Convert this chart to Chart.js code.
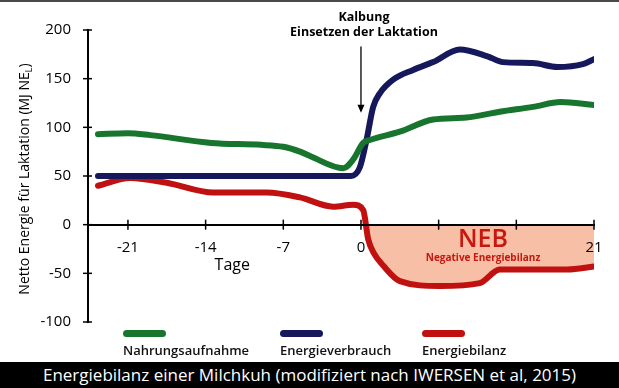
<!DOCTYPE html>
<html>
<head>
<meta charset="utf-8">
<script src="https://cdn.jsdelivr.net/npm/chart.js@4.4.1/dist/chart.umd.min.js"></script>
<style>
  html, body { margin: 0; padding: 0; background: #fff; }
  #wrap { position: relative; width: 619px; height: 388px; overflow: hidden; font-family: "Open Sans", sans-serif; }
  #topline { position: absolute; left: 0; top: 0; width: 619px; height: 2px; background: #4a4a4a; }
  #box { position: absolute; left: 0; top: 0; width: 619px; height: 362px; }
  .leg { position: absolute; top: 330px; font-size: 13px; font-weight: 600; color: #111; }
  .leg span { display: block; width: 43px; height: 7px; border-radius: 4px; margin-bottom: 4px; }
  #caption { position: absolute; left: 0; top: 362px; width: 619px; height: 26px; background: #000; color: #fff;
             font-size: 17px; line-height: 26px; text-align: center; }
</style>
</head>
<body>
<div id="wrap">
  <div id="box"><canvas id="myChart"></canvas></div>
  <div id="topline"></div>
  <div class="leg" style="left:123px"><span style="background:#17752d"></span>Nahrungsaufnahme</div>
  <div class="leg" style="left:280px"><span style="background:#15195c"></span>Energieverbrauch</div>
  <div class="leg" style="left:422px"><span style="background:#c01010"></span>Energiebilanz</div>
  <div id="caption">Energiebilanz einer Milchkuh (modifiziert nach IWERSEN et al, 2015)</div>
</div>
<script>
// days relative to calving, values in MJ NEL
const greenDays = [-23.7, -21, -19, -13.5, -9, -7, -5.5, -4.5, -1.6, -0.7, 0.2, 0.8, 3.5, 6.5, 9.5, 12.5, 15.5, 18, 21];
const greenVals = [93, 94, 92, 84, 82, 80, 75, 70, 58, 67, 84, 87, 95.5, 108, 110, 116, 121, 126, 123];

const blueDays = [-23.7, -2, -0.9, -0.1, 0.5, 1.1, 1.7, 2.9, 4.7, 6.5, 8.9, 11.4, 12.8, 15.5, 17.7, 20, 21];
const blueVals = [50, 50, 50, 59, 87, 121, 135, 149, 159, 167, 180, 173, 167, 166, 162, 165, 170];

const redDays = [-23.7, -20.8, -17.5, -13.3, -8.5, -5.5, -2.5, -0.7, 0.2, 0.65, 1.2, 2.0, 3.5, 7.1, 10.7, 12.5, 15.5, 18.6, 21];
const redVals = [40, 48, 43, 33, 33, 28, 18.5, 20.5, 15, -15, -30, -42, -58, -63, -60, -46, -46, -46, -43];

const xTickValues = [-21, -14, -7, 0, 7, 14, 21];
const xTickLabels = ['-21', '-14', '-7', '0', '', '', '21'];

const seriesNames = ['Nahrungsaufnahme', 'Energieverbrauch', 'Energiebilanz'];

const toPoints = (xs, ys) => xs.map((x, i) => ({ x: x, y: ys[i] }));

const FONT = '"Open Sans", sans-serif';

// draws axis tick crosses, the axis title with subscript and the annotations
const annotations = {
    id: 'annotations',
    afterDraw(chart) {
        const ctx = chart.ctx;
        const xs = chart.scales.x;
        const ys = chart.scales.y;
        const left = chart.chartArea.left;
        const y0 = ys.getPixelForValue(0);
        ctx.save();
        ctx.strokeStyle = '#000';
        ctx.lineWidth = 1.5;
        xTickValues.forEach(v => {
            const px = xs.getPixelForValue(v);
            ctx.beginPath();
            ctx.moveTo(px, y0 - 5);
            ctx.lineTo(px, y0 + 5);
            ctx.stroke();
        });
        ys.ticks.forEach(t => {
            const py = ys.getPixelForValue(t.value);
            ctx.beginPath();
            ctx.moveTo(left - 5, py);
            ctx.lineTo(left + 4, py);
            ctx.stroke();
        });

        // y axis title
        ctx.fillStyle = '#000';
        ctx.font = '14px ' + FONT;
        const main = 'Netto Energie für Laktation (MJ NE';
        const wMain = ctx.measureText(main).width;
        ctx.font = '9px ' + FONT;
        const wSub = ctx.measureText('L').width;
        ctx.font = '14px ' + FONT;
        const wEnd = ctx.measureText(')').width;
        const total = wMain + wSub + wEnd;
        ctx.translate(25, (ys.top + ys.bottom) / 2 + 3);
        ctx.rotate(-Math.PI / 2);
        ctx.textBaseline = 'middle';
        ctx.textAlign = 'left';
        let cx = -total / 2;
        ctx.fillText(main, cx, 0);
        cx += wMain;
        ctx.font = '9px ' + FONT;
        ctx.fillText('L', cx, 4);
        cx += wSub;
        ctx.font = '14px ' + FONT;
        ctx.fillText(')', cx, 0);
        ctx.setTransform(1, 0, 0, 1, 0, 0);

        // x axis title
        ctx.textAlign = 'center';
        ctx.textBaseline = 'middle';
        ctx.font = '16px ' + FONT;
        ctx.fillText('Tage', xs.getPixelForValue(-11.6), ys.getPixelForValue(-42));

        // calving annotation
        const xc = xs.getPixelForValue(0);
        ctx.font = 'bold 12.5px ' + FONT;
        ctx.fillText('Kalbung', xc + 3, ys.getPixelForValue(213));
        ctx.fillText('Einsetzen der Laktation', xc + 3, ys.getPixelForValue(197));
        const aTop = ys.getPixelForValue(183);
        const aBot = ys.getPixelForValue(115);
        ctx.lineWidth = 1.3;
        ctx.beginPath();
        ctx.moveTo(xc, aTop);
        ctx.lineTo(xc, aBot - 5);
        ctx.stroke();
        ctx.beginPath();
        ctx.moveTo(xc - 3.5, aBot - 8);
        ctx.lineTo(xc, aBot);
        ctx.lineTo(xc + 3.5, aBot - 8);
        ctx.closePath();
        ctx.fill();

        // NEB label
        ctx.fillStyle = '#c8170f';
        ctx.font = '600 25px ' + FONT;
        ctx.fillText('NEB', xs.getPixelForValue(11), ys.getPixelForValue(-15.5));
        ctx.font = 'bold 10px ' + FONT;
        ctx.fillText('Negative Energiebilanz', xs.getPixelForValue(11), ys.getPixelForValue(-34));
        ctx.restore();
    }
};

const ctx = document.getElementById('myChart').getContext('2d');
new Chart(ctx, {
    type: 'line',
    data: {
        datasets: [
            {
                label: seriesNames[0],
                data: toPoints(greenDays, greenVals),
                borderColor: '#17752d',
                order: 0
            },
            {
                label: seriesNames[1],
                data: toPoints(blueDays, blueVals),
                borderColor: '#15195c',
                order: 1
            },
            {
                label: seriesNames[2],
                data: toPoints(redDays, redVals),
                borderColor: '#c01010',
                fill: { target: 'origin', above: 'rgba(0,0,0,0)', below: '#f6bfa6' },
                order: 2
            }
        ]
    },
    options: {
        responsive: true,
        maintainAspectRatio: false,
        animation: false,
        layout: { padding: { left: 0, right: 25, top: 30, bottom: 40 } },
        elements: {
            point: { radius: 0 },
            line: { borderWidth: 6, borderCapStyle: 'round', borderJoinStyle: 'round', cubicInterpolationMode: 'monotone' }
        },
        scales: {
            x: {
                type: 'linear',
                min: -24.6,
                max: 21,
                position: { y: 0 },
                grid: { display: false },
                border: { display: true, color: '#000', width: 2, z: 1 },
                afterBuildTicks: scale => { scale.ticks = xTickValues.map(v => ({ value: v })); },
                ticks: {
                    z: 1,
                    color: '#000',
                    font: { family: FONT, size: 15 },
                    padding: 6,
                    maxRotation: 0,
                    autoSkip: false,
                    callback: v => xTickLabels[xTickValues.indexOf(v)]
                }
            },
            y: {
                min: -100,
                max: 200,
                grid: { display: false },
                border: { display: true, color: '#000', width: 2 },
                afterFit: scale => { scale.width = 88; },
                ticks: {
                    stepSize: 50,
                    color: '#000',
                    font: { family: FONT, size: 15 },
                    padding: 9
                }
            }
        },
        plugins: {
            legend: { display: false },
            tooltip: { enabled: false }
        }
    },
    plugins: [annotations]
});
</script>
</body>
</html>
